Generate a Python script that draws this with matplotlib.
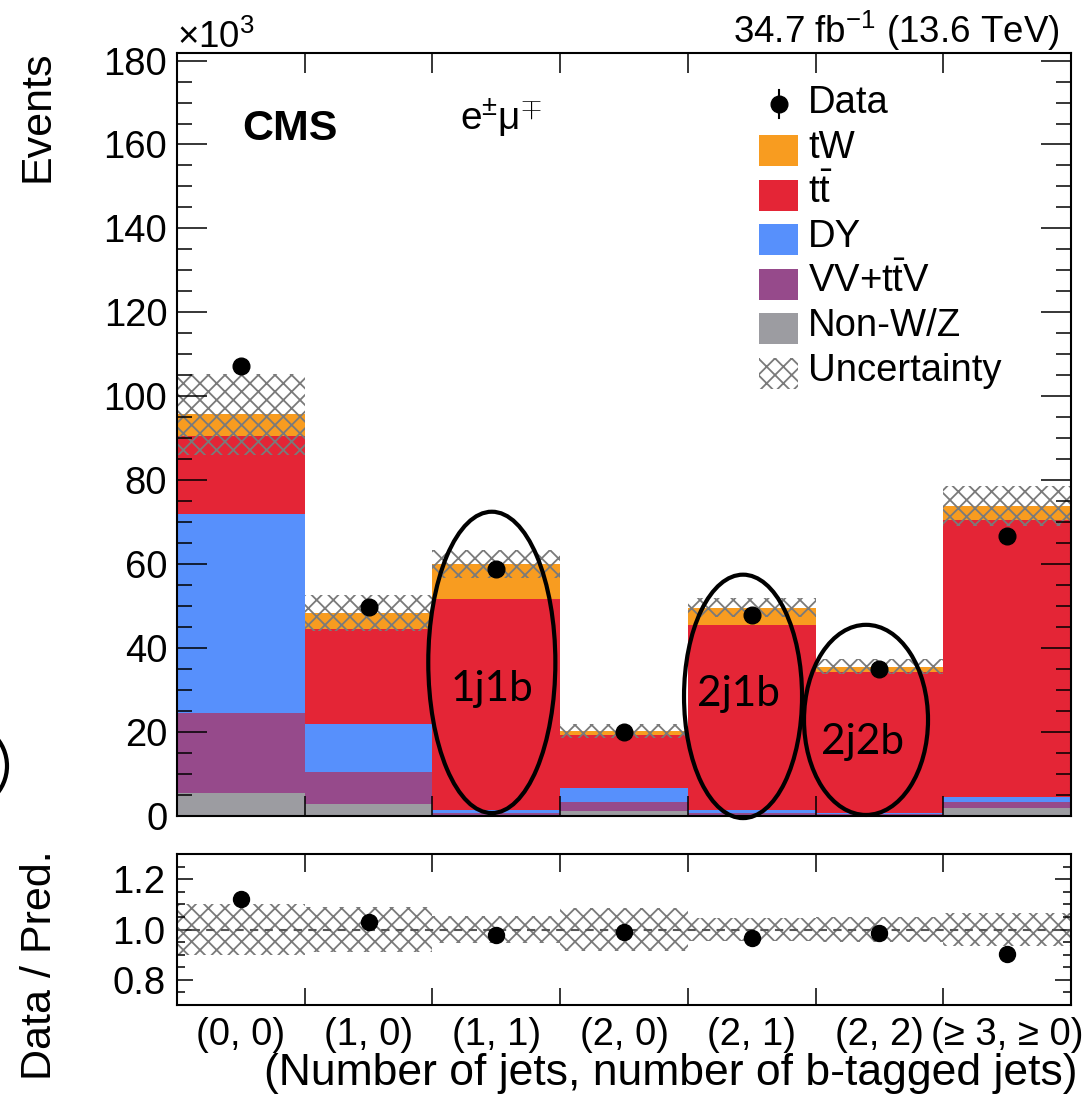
import numpy as np
import matplotlib
matplotlib.use("Agg")
import matplotlib.pyplot as plt
from matplotlib.patches import Ellipse, Rectangle
from matplotlib.lines import Line2D
from matplotlib.ticker import MultipleLocator

plt.rcParams['font.family'] = ['Liberation Sans', 'DejaVu Sans']
plt.rcParams['mathtext.fontset'] = 'custom'
plt.rcParams['mathtext.rm'] = 'Liberation Sans'
plt.rcParams['mathtext.it'] = 'Liberation Sans:italic'
plt.rcParams['mathtext.bf'] = 'Liberation Sans:bold'
plt.rcParams['hatch.linewidth'] = 1.3

# ---------------- data (events in units of 10^3) ----------------
categories = ['(0, 0)', '(1, 0)', '(1, 1)', '(2, 0)', '(2, 1)', '(2, 2)', '(≥ 3, ≥ 0)']
nonwz = [5.5, 2.9, 0.3, 1.1, 0.3, 0.2, 2.0]
vv    = [19.0, 7.6, 0.4, 2.2, 0.5, 0.3, 1.4]
dy    = [47.5, 11.5, 0.8, 3.4, 0.7, 0.3, 1.2]
ttbar = [18.5, 22.6, 50.3, 12.6, 44.1, 33.6, 66.0]
tw    = [5.2, 3.8, 8.3, 1.0, 4.0, 1.2, 3.2]
data  = [107.2, 49.9, 58.9, 20.1, 48.0, 35.1, 66.6]
unc_rel = [0.10, 0.09, 0.055, 0.085, 0.045, 0.05, 0.065]

# annotation regions: (label, bin position, ellipse centre y, ellipse height, width, text y)
regions = [
    ('1j1b', 1.965, 36.6, 71.8, 0.995, 30.3),
    ('2j1b', 3.932, 28.5, 58.0, 0.924, 29.0),
    ('2j2b', 4.895, 22.9, 45.3, 0.971, 17.6),
]
region_text_x = [1.965, 3.893, 4.868]

# ---------------- styling ----------------
colors = {'Non-W/Z': '#9C9CA1', 'VV': '#964A8B', 'DY': '#5790FC',
          'tt': '#E42536', 'tW': '#F89C20'}
W, H = 1092, 1094
HATCH = 'xx'
HCOL = '#7a7a7a'


def fxy(px, py):
    return px / W, 1 - py / H


fig = plt.figure(figsize=(W / 100, H / 100), dpi=100)
ax = fig.add_axes([177 / W, 1 - 816 / H, (1071 - 177) / W, (816 - 53) / H])
ax2 = fig.add_axes([177 / W, 1 - 1005 / H, (1071 - 177) / W, (1005 - 854) / H])

x = np.arange(len(categories))
edges = np.arange(-0.5, len(categories) + 0.5, 1.0)

stack = [(nonwz, colors['Non-W/Z']), (vv, colors['VV']), (dy, colors['DY']),
         (ttbar, colors['tt']), (tw, colors['tW'])]
bottom = np.zeros(len(x))
for vals, col in stack:
    ax.bar(x, vals, width=1.0, bottom=bottom, color=col, linewidth=0)
    bottom = bottom + np.array(vals)
total = bottom
unc = np.array(unc_rel)

ax.bar(x, 2 * total * unc, width=1.0, bottom=total * (1 - unc), color='none',
       edgecolor=HCOL, linewidth=0, hatch=HATCH)
ax.plot(x, data, 'o', color='black', ms=12, zorder=5)

ax.set_xlim(-0.5, len(categories) - 0.5)
ax.set_ylim(0, 181.8)
ax.set_xticks(edges)
ax.set_xticklabels([])
ax.yaxis.set_major_locator(MultipleLocator(20))
ax.yaxis.set_minor_locator(MultipleLocator(5))
ax.tick_params(axis='y', which='major', direction='in', length=21.6, width=1.1,
               left=True, right=True, labelsize=27.5, pad=7)
ax.tick_params(axis='y', which='minor', direction='in', length=10.8, width=1.1,
               left=True, right=True)
ax.tick_params(axis='x', which='major', direction='in', length=14.4, width=1.1,
               top=True, bottom=True)
for s in ax.spines.values():
    s.set_linewidth(1.5)

# ellipses and labels
for (lab, cx, cy, hh, ww, ty), tx in zip(regions, region_text_x):
    ax.add_patch(Ellipse((cx, cy), ww, hh, fill=False, edgecolor='black',
                         linewidth=3, zorder=6, clip_on=False))
    ax.text(tx, ty, lab, ha='center', va='center', fontsize=30.5,
            family=['Lato', 'DejaVu Sans'], zorder=7)

# partial ellipse at left edge of figure
fig.add_artist(Ellipse(fxy(-40, 766), 94 / W, 90 / H, transform=fig.transFigure,
                       fill=False, edgecolor='black', linewidth=3))

# ---------------- ratio panel ----------------
ratio = np.array(data) / total
ax2.bar(x, 2 * unc, width=1.0, bottom=1 - unc, color='none',
        edgecolor=HCOL, linewidth=0, hatch=HATCH)
ax2.axhline(1.0, color='#555555', linestyle=(0, (4, 3)), linewidth=1.5)
ax2.plot(x, ratio, 'o', color='black', ms=11.5, zorder=5)
ax2.set_xlim(-0.5, len(categories) - 0.5)
ax2.set_ylim(0.7, 1.3)
ax2.set_xticks(edges)
ax2.set_xticklabels([])
ax2.set_xticks(x, minor=True)
ax2.set_xticklabels(categories, minor=True)
ax2.yaxis.set_minor_locator(MultipleLocator(0.05))
ax2.set_yticks([0.8, 1.0, 1.2])
ax2.set_yticklabels(['0.8', '1.0', '1.2'])
ax2.tick_params(axis='y', which='major', direction='in', length=11.5, width=1.1,
                left=True, right=True, labelsize=27.5, pad=8.5)
ax2.tick_params(axis='y', which='minor', direction='in', length=5.8, width=1.1,
                left=True, right=True)
ax2.tick_params(axis='x', which='major', direction='in', length=12.6, width=1.1,
                top=True, bottom=True)
ax2.tick_params(axis='x', which='minor', length=0, labelsize=27.5, pad=8.5)
for s in ax2.spines.values():
    s.set_linewidth(1.5)

# ---------------- texts ----------------
fig.text(*fxy(38, 50), 'Events', rotation=90, ha='center', va='top', fontsize=31)
fig.text(*fxy(40, 965), 'Data / Pred.', rotation=90, ha='center', va='center', fontsize=31)
fig.text(*fxy(1077, 1085), '(Number of jets, number of b-tagged jets)',
         ha='right', va='baseline', fontsize=32)
fig.text(*fxy(177, 48), r'$\times$10$^{3}$', ha='left', va='baseline', fontsize=26.5)
fig.text(*fxy(1060, 43), r'34.7 fb$^{-1}$ (13.6 TeV)', ha='right', va='baseline', fontsize=26.5)
fig.text(*fxy(242, 140), 'CMS', ha='left', va='baseline', fontsize=31, fontweight='bold')
fig.text(*fxy(460, 130), r'e$^{\pm}$μ$^{\mp}$', ha='left', va='baseline', fontsize=28)

# ---------------- legend (manual, ROOT-like) ----------------
leg_labels = ['tW', r'$\mathrm{t\bar{t}}$', 'DY', r'VV+$\mathrm{t\bar{t}}$V', 'Non-W/Z']
leg_cols = [colors['tW'], colors['tt'], colors['DY'], colors['VV'], colors['Non-W/Z']]
box_tops = [135, 180, 224, 269, 313]
for lab, col, top in zip(leg_labels, leg_cols, box_tops):
    fig.add_artist(Rectangle(fxy(759, top + 31), 39 / W, 31 / H, transform=fig.transFigure,
                             facecolor=col, edgecolor='none'))
    fig.text(*fxy(808, top + 23), lab, ha='left', va='baseline', fontsize=27.5)
fig.add_artist(Rectangle(fxy(759, 358 + 31), 39 / W, 31 / H, transform=fig.transFigure,
                         facecolor='none', edgecolor=HCOL, linewidth=0, hatch=HATCH))
fig.text(*fxy(808, 381), 'Uncertainty', ha='left', va='baseline', fontsize=27.5)
fig.add_artist(Line2D([779 / W] * 2, [fxy(0, 90)[1], fxy(0, 118)[1]],
                      transform=fig.transFigure, color='black', linewidth=1.5))
fig.add_artist(Line2D([779 / W], [fxy(0, 104)[1]], transform=fig.transFigure,
                      marker='o', ms=12, color='black'))
fig.text(*fxy(808, 113), 'Data', ha='left', va='baseline', fontsize=27.5)

fig.savefig('out.png', dpi=100)
